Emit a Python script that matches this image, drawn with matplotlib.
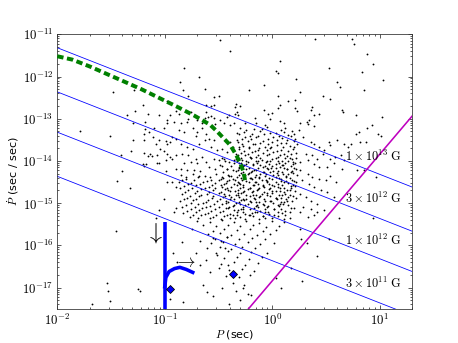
import numpy as np
import matplotlib
matplotlib.use('Agg')
import matplotlib.pyplot as plt
from matplotlib.ticker import FixedLocator, FuncFormatter, NullFormatter

plt.rcParams['mathtext.fontset'] = 'cm'
plt.rcParams['font.family'] = ['DejaVu Sans']
K = 0.5725  # original figure drawn at 57.25 dpi; sizes below given in that scale

# ---------------- data (log10 P [s], log10 Pdot [s/s]) ----------------
top_logP = [-1.48, -1.29, -1.20, -1.16, -1.28, -1.35, -1.05, -0.95, -0.90, -0.98, -0.98, -0.98, -0.91, -1.30, -1.18, -1.79, -1.51]
top_logPdot = [-12.37, -12.33, -12.68, -12.88, -12.82, -12.90, -12.90, -12.92, -12.81, -12.59, -13.02, -13.10, -13.08, -13.10, -13.08, -13.29, -13.42]

topmid_logP = [-0.49, -0.39, -0.82, -0.68, -0.86, -0.63, -0.83, -0.54, -0.50, -0.78,
               -0.22, -0.08, 0.07, 0.03, 0.05, 0.22, 0.05, 0.15, 0.21, 0.21,
               0.23, 0.07, 0.05, -0.08, -0.04, 0.00, -0.02, 0.07, 0.11, -0.16,
               -0.15, -0.07, -0.34, -0.30, -0.35, -0.33, -0.35, -0.32, -0.40, -0.42,
               -0.25, -0.36, -0.45, -0.49, -0.54, -0.62, -0.57, -0.54, -0.62, -0.57,
               -0.63, -0.60, -0.78, -0.87, -0.70, -0.65, -0.79, -0.76, -0.53, -0.39,
               -0.85]
topmid_logPdot = [-11.14, -11.40, -11.81, -12.02, -12.13, -12.30, -12.33, -12.48, -12.45, -12.45,
                  -12.33, -12.19, -11.64, -11.87, -11.92, -12.05, -12.46, -12.57, -12.55, -12.75,
                  -12.81, -12.68, -12.75, -12.79, -12.88, -12.87, -13.00, -13.05, -13.10, -12.98,
                  -13.10, -13.14, -12.65, -12.69, -12.73, -12.84, -12.88, -12.92, -12.92, -12.96,
                  -13.11, -13.10, -13.10, -13.03, -12.98, -12.67, -12.70, -12.67, -12.85, -12.93,
                  -12.98, -12.95, -13.01, -12.88, -13.04, -13.10, -13.08, -12.83, -13.13, -13.14,
                  -13.10]

topright_logP = [0.40, 0.74, 0.76, 0.88, 0.94, 0.53, 0.83, 1.03, 0.60, 0.63, 0.85, 0.26, 0.47, 0.54,
                 0.37, 0.36, 0.65, 0.66, 0.43, 0.39, 0.78, 1.02, 0.34, 0.32, 0.33, 0.26, 0.93, 0.39]
topright_logPdot = [-11.10, -11.11, -11.24, -11.46, -11.70, -11.79, -11.90, -12.08, -12.14, -12.24, -12.33, -12.37, -12.45, -12.53,
                    -12.72, -12.80, -12.80, -12.84, -12.88, -12.92, -12.92, -12.95, -13.02, -13.08, -13.13, -13.10, -13.14, -13.17]

midleft_logP = [-1.18, -1.10, -1.01, -1.19, -1.15, -1.11, -1.30, -1.19, -1.08, -1.05,
                -0.99, -0.98, -0.95, -0.93, -0.90, -1.04, -1.31, -1.19, -1.14, -1.16,
                -1.12, -1.07, -0.98, -0.95, -1.01, -0.93, -0.90, -1.41, -1.07, -1.05,
                -0.99, -1.20, -1.19, -1.17, -1.40, -0.99, -0.90, -1.44, -0.98, -0.93,
                -0.90, -1.32, -1.01, -0.90, -0.91, -1.05, -1.08]
midleft_logPdot = [-13.25, -13.22, -13.22, -13.36, -13.31, -13.43, -13.51, -13.51, -13.59, -13.51,
                   -13.52, -13.59, -13.55, -13.43, -13.47, -13.71, -13.76, -13.81, -13.83, -13.89,
                   -13.89, -13.86, -13.83, -13.90, -13.76, -13.95, -13.86, -13.85, -14.04, -14.04,
                   -13.98, -14.08, -14.13, -14.08, -14.24, -14.24, -14.18, -14.48, -14.50, -14.50,
                   -14.62, -14.64, -14.90, -15.12, -15.21, -15.16, -15.35]

coreup_logP = [-0.87, -0.82, -0.74, -0.70, -0.65, -0.62, -0.71, -0.85, -0.79, -0.74,
               -0.68, -0.63, -0.59, -0.54, -0.57, -0.51, -0.47, -0.42, -0.39, -0.37,
               -0.34, -0.84, -0.78, -0.71, -0.65, -0.62, -0.70, -0.76, -0.82, -0.54,
               -0.50, -0.45, -0.40, -0.36, -0.59, -0.53, -0.47, -0.42, -0.37, -0.85,
               -0.79, -0.73, -0.67, -0.34]
coreup_logPdot = [-13.27, -13.31, -13.23, -13.31, -13.23, -13.35, -13.41, -13.59, -13.67, -13.71,
                  -13.59, -13.51, -13.47, -13.51, -13.67, -13.75, -13.71, -13.79, -13.55, -13.67,
                  -13.83, -13.83, -13.86, -13.95, -13.90, -14.02, -14.06, -14.02, -14.06, -13.95,
                  -13.98, -13.95, -14.02, -14.06, -14.14, -14.18, -14.13, -14.18, -14.22, -14.18,
                  -14.22, -14.21, -14.24, -13.95]

right_logP = [0.25, 0.29, 0.36, 0.39, 0.43, 0.48, 0.53, 0.54, 0.60, 0.67,
              0.70, 0.73, 0.82, 0.87, 0.81, 0.88, 0.78, 0.98, 1.01, 0.31,
              0.37, 0.42, 0.47, 0.54, 0.58, 0.64, 0.67, 0.26, 0.33, 0.39,
              0.43, 0.51, 0.57, 0.65, 0.79, 0.85, 0.96, 0.26, 0.33, 0.37,
              0.43, 0.50, 0.54, 0.59, 0.28, 0.34, 0.39, 0.45, 0.51, 0.57,
              0.26, 0.31, 0.36, 0.42, 0.29, 0.36, 0.42, 0.48, 0.39, 0.26,
              0.33]
right_logPdot = [-13.27, -13.43, -13.55, -13.59, -13.67, -13.75, -13.55, -13.63, -13.51, -13.60,
                 -13.67, -13.59, -13.55, -13.55, -13.31, -13.23, -13.36, -13.36, -13.41, -13.83,
                 -13.86, -13.95, -13.83, -13.95, -13.90, -13.86, -13.98, -14.02, -13.98, -14.08,
                 -14.14, -14.14, -14.06, -14.18, -14.21, -14.22, -14.38, -14.21, -14.30, -14.38,
                 -14.42, -14.46, -14.36, -14.50, -14.46, -14.54, -14.62, -14.70, -14.74, -14.86,
                 -14.78, -14.86, -14.94, -15.02, -15.10, -15.14, -15.21, -15.17, -15.29, -15.21,
                 -15.33]

low_logP = [-1.45, -1.53, -1.51, -1.68, -1.25, -1.23, -0.95, -0.89, -1.54, -0.84,
            -0.92, -0.83, -0.71, -0.64, -0.61, -0.55, -0.47, -0.62, -0.67, -0.58,
            -0.50, -0.41, -0.51, -0.44, -0.61, -0.67, -0.55, -0.48, -0.42, 0.26,
            0.27, 0.32, 0.53, 0.42, 0.28, 0.62, 0.08, 0.94, 0.17, 0.03,
            -0.20, -0.27]
low_logPdot = [-15.67, -17.09, -17.31, -17.38, -17.03, -17.07, -17.27, -16.40, -16.90, -15.93,
               -16.18, -17.35, -16.18, -16.94, -17.10, -17.21, -17.02, -16.34, -16.46, -16.62,
               -16.54, -16.46, -16.22, -16.06, -16.06, -15.90, -15.83, -15.90, -15.79, -15.62,
               -15.86, -15.94, -15.86, -16.24, -16.85, -15.35, -17.02, -15.35, -16.54, -16.78,
               -17.17, -17.02]

coreA_logP = [
    -0.30, -0.17, -0.05, 0.12,
    -0.26, -0.11, 0.03, 0.18,
    -0.31, -0.21, -0.08, 0.06, 0.15,
    -0.28, -0.15, -0.04, 0.09, 0.21,
    -0.32, -0.23, -0.11, 0.00, 0.13, 0.20,
    -0.27, -0.18, -0.07, 0.04, 0.16,
    -0.31, -0.22, -0.13, -0.02, 0.08, 0.19,
    -0.29, -0.19, -0.09, 0.01, 0.11, 0.22,
    -0.33, -0.25, -0.15, -0.05, 0.05, 0.14,
    -0.28, -0.20, -0.10, 0.00, 0.09, 0.18,
    -0.31, -0.23, -0.14, -0.06, 0.03, 0.12, 0.21,
    -0.27, -0.18, -0.09, 0.00, 0.07, 0.17,
    -0.32, -0.24, -0.15, -0.04, 0.05, 0.14, 0.22,
    -0.29, -0.20, -0.11, -0.02, 0.10, 0.19,
    -0.33, -0.25, -0.16, -0.07, 0.03, 0.13,
    -0.28, -0.19, -0.10, 0.00, 0.08, 0.18,
    -0.31, -0.22, -0.13, -0.05, 0.05, 0.15,
    -0.27, -0.17, -0.08, 0.02, 0.11, 0.21,
    -0.32, -0.23, -0.14, -0.03, 0.07, 0.16,
    -0.29, -0.19, -0.10, 0.00, 0.12,
    -0.31, -0.21, -0.12, -0.02, 0.08, 0.19,
    -0.26, -0.16, -0.07, 0.04, 0.14,
    -0.30, -0.20, -0.09, 0.01, 0.10,
    -0.27, -0.15, -0.05, 0.06, 0.17,
    -0.32, -0.21, -0.11, 0.02, 0.12,
    -0.25, -0.14, -0.03, 0.09,
    -0.30, -0.18, -0.07, 0.05, 0.16]
coreA_logPdot = [
    -13.21, -13.24, -13.20, -13.23,
    -13.31, -13.28, -13.33, -13.29,
    -13.37, -13.40, -13.36, -13.41, -13.38,
    -13.47, -13.44, -13.48, -13.45, -13.49,
    -13.56, -13.53, -13.57, -13.54, -13.58, -13.52,
    -13.64, -13.61, -13.66, -13.62, -13.65,
    -13.72, -13.69, -13.74, -13.70, -13.73, -13.71,
    -13.81, -13.78, -13.82, -13.79, -13.83, -13.80,
    -13.89, -13.86, -13.90, -13.87, -13.91, -13.88,
    -13.97, -13.94, -13.98, -13.95, -13.99, -13.96,
    -14.05, -14.02, -14.06, -14.03, -14.07, -14.04, -14.06,
    -14.13, -14.10, -14.14, -14.11, -14.15, -14.12,
    -14.21, -14.18, -14.22, -14.19, -14.23, -14.20, -14.18,
    -14.29, -14.26, -14.30, -14.27, -14.31, -14.28,
    -14.37, -14.34, -14.38, -14.35, -14.39, -14.36,
    -14.45, -14.42, -14.46, -14.43, -14.47, -14.44,
    -14.53, -14.50, -14.54, -14.51, -14.55, -14.52,
    -14.61, -14.58, -14.62, -14.59, -14.63, -14.60,
    -14.69, -14.66, -14.70, -14.67, -14.71, -14.68,
    -14.77, -14.74, -14.78, -14.75, -14.79,
    -14.85, -14.82, -14.86, -14.83, -14.87, -14.84,
    -14.93, -14.90, -14.94, -14.91, -14.95,
    -15.01, -14.98, -15.02, -14.99, -15.03,
    -15.09, -15.06, -15.10, -15.07, -15.11,
    -15.17, -15.14, -15.18, -15.15, -15.19,
    -15.25, -15.22, -15.26, -15.23,
    -15.33, -15.30, -15.34, -15.31, -15.35]

coreA2_logP = [
    -0.24, -0.10, 0.08,
    -0.33, -0.19, -0.02, 0.11, 0.20,
    -0.25, -0.13, 0.01, 0.17,
    -0.33, -0.20, -0.09, 0.04, 0.14,
    -0.28, -0.16, -0.04, 0.08, 0.23,
    -0.31, -0.22, -0.12, -0.01, 0.10, 0.20,
    -0.26, -0.16, -0.05, 0.04, 0.15,
    -0.32, -0.23, -0.13, -0.03, 0.07, 0.17,
    -0.29, -0.20, -0.11, 0.03, 0.12, 0.22,
    -0.33, -0.24, -0.15, -0.05, 0.05, 0.15,
    -0.26, -0.18, -0.11, -0.03, 0.09, 0.19,
    -0.31, -0.22, -0.13, -0.05, 0.03, 0.11, 0.20,
    -0.27, -0.19, -0.09, 0.01, 0.09, 0.18,
    -0.31, -0.23, -0.15, -0.06, 0.05, 0.15, 0.23,
    -0.29, -0.21, -0.12, -0.03, 0.06, 0.16,
    -0.32, -0.24, -0.15, -0.05, 0.03, 0.13, 0.22,
    -0.27, -0.18, -0.09, 0.00, 0.09, 0.19,
    -0.30, -0.21, -0.12, -0.02, 0.07, 0.17,
    -0.27, -0.18, -0.08, 0.03, 0.11, 0.21,
    -0.32, -0.24, -0.15, -0.05, 0.06, 0.16,
    -0.27, -0.17, -0.08, 0.03, 0.13, 0.22,
    -0.31, -0.21, -0.12, -0.02, 0.08, 0.18,
    -0.25, -0.14, -0.04, 0.05, 0.15,
    -0.29, -0.17, -0.07, 0.08, 0.20,
    -0.27, -0.16, -0.07, 0.05, 0.16,
    -0.33, -0.21, -0.09, 0.02, 0.12,
    -0.25, -0.12, 0.00, 0.11]
coreA2_logPdot = [
    -13.27, -13.25, -13.26,
    -13.33, -13.35, -13.34, -13.32, -13.36,
    -13.43, -13.41, -13.44, -13.42,
    -13.51, -13.49, -13.52, -13.50, -13.51,
    -13.60, -13.59, -13.61, -13.58, -13.60,
    -13.68, -13.67, -13.69, -13.66, -13.68, -13.67,
    -13.76, -13.77, -13.75, -13.77, -13.76,
    -13.85, -13.84, -13.85, -13.83, -13.85, -13.84,
    -13.93, -13.92, -13.93, -13.92, -13.93, -13.92,
    -14.01, -14.00, -14.01, -14.00, -14.01, -14.00,
    -14.09, -14.08, -14.09, -14.08, -14.09, -14.08,
    -14.17, -14.16, -14.17, -14.16, -14.17, -14.16, -14.17,
    -14.25, -14.24, -14.25, -14.24, -14.25, -14.24,
    -14.33, -14.32, -14.33, -14.32, -14.33, -14.32, -14.33,
    -14.41, -14.40, -14.41, -14.40, -14.41, -14.40,
    -14.49, -14.48, -14.49, -14.48, -14.49, -14.48, -14.49,
    -14.57, -14.56, -14.57, -14.56, -14.57, -14.56,
    -14.65, -14.64, -14.65, -14.64, -14.65, -14.64,
    -14.73, -14.72, -14.73, -14.72, -14.73, -14.72,
    -14.81, -14.80, -14.81, -14.80, -14.81, -14.80,
    -14.89, -14.88, -14.89, -14.88, -14.89, -14.88,
    -14.97, -14.96, -14.97, -14.96, -14.97, -14.96,
    -15.05, -15.04, -15.06, -15.05, -15.04,
    -15.13, -15.12, -15.14, -15.13, -15.12,
    -15.21, -15.22, -15.20, -15.21, -15.22,
    -15.29, -15.28, -15.30, -15.29, -15.28,
    -15.37, -15.38, -15.36, -15.37]

coreD_logP = [
    -0.47, -0.36, -0.21, -0.02, 0.16,
    -0.44, -0.29, -0.13, 0.06, 0.19,
    -0.49, -0.38, -0.24, -0.07, 0.10,
    -0.42, -0.31, -0.17, -0.01, 0.14,
    -0.46, -0.34, -0.22, -0.08, 0.04, 0.17,
    -0.40, -0.27, -0.12, 0.01, 0.13,
    -0.48, -0.35, -0.20, -0.06, 0.08, 0.20,
    -0.43, -0.30, -0.16, -0.03, 0.11,
    -0.47, -0.33, -0.21, -0.09, 0.05, 0.17,
    -0.41, -0.26, -0.13, 0.00, 0.14,
    -0.45, -0.32, -0.18, -0.05, 0.09,
    -0.38, -0.24, -0.11, 0.03, 0.15,
    -0.43, -0.29, -0.15, -0.01, 0.11,
    -0.36, -0.23, -0.08, 0.07,
    -0.41, -0.27, -0.13, 0.02,
    -0.33, -0.19, -0.04,
    -0.37, -0.22, -0.09]
coreD_logPdot = [
    -13.93, -13.97, -13.91, -13.99, -13.94,
    -14.01, -14.04, -14.00, -14.05, -14.02,
    -14.09, -14.13, -14.07, -14.12, -14.10,
    -14.19, -14.15, -14.21, -14.16, -14.20,
    -14.27, -14.24, -14.29, -14.25, -14.28, -14.26,
    -14.35, -14.33, -14.37, -14.34, -14.38,
    -14.43, -14.46, -14.41, -14.45, -14.42, -14.47,
    -14.52, -14.55, -14.50, -14.54, -14.51,
    -14.61, -14.58, -14.63, -14.59, -14.62, -14.60,
    -14.69, -14.72, -14.67, -14.71, -14.68,
    -14.78, -14.76, -14.80, -14.77, -14.81,
    -14.86, -14.89, -14.84, -14.88, -14.85,
    -14.95, -14.93, -14.97, -14.94, -14.98,
    -15.04, -15.01, -15.05, -15.02,
    -15.12, -15.15, -15.10, -15.14,
    -15.21, -15.24, -15.20,
    -15.29, -15.27, -15.31]

coreB_logP = [
    -0.85, -0.74, -0.63, -0.52, -0.41,
    -0.80, -0.69, -0.57, -0.46, -0.37,
    -0.87, -0.76, -0.64, -0.53, -0.42,
    -0.82, -0.71, -0.59, -0.48, -0.38,
    -0.78, -0.66, -0.55, -0.44, -0.35,
    -0.84, -0.72, -0.61, -0.50, -0.40,
    -0.79, -0.68, -0.56, -0.46, -0.36,
    -0.86, -0.74, -0.62, -0.51, -0.41,
    -0.80, -0.69, -0.58, -0.47, -0.37,
    -0.76, -0.65, -0.53, -0.43,
    -0.83, -0.71, -0.60, -0.49, -0.39,
    -0.77, -0.66, -0.55, -0.45, -0.35]
coreB_logPdot = [
    -14.33, -14.31, -14.35, -14.30, -14.34,
    -14.42, -14.39, -14.44, -14.40, -14.43,
    -14.50, -14.53, -14.49, -14.52, -14.48,
    -14.60, -14.57, -14.61, -14.58, -14.62,
    -14.69, -14.66, -14.70, -14.67, -14.71,
    -14.78, -14.75, -14.79, -14.76, -14.80,
    -14.87, -14.84, -14.88, -14.85, -14.89,
    -14.96, -14.93, -14.97, -14.94, -14.98,
    -15.05, -15.02, -15.06, -15.03, -15.07,
    -15.14, -15.11, -15.15, -15.12,
    -15.23, -15.20, -15.24, -15.21, -15.25,
    -15.32, -15.29, -15.33, -15.30, -15.34]

coreB2_logP = [
    -0.80, -0.68, -0.58, -0.47, -0.38,
    -0.84, -0.73, -0.61, -0.50, -0.40,
    -0.78, -0.67, -0.56, -0.45, -0.36,
    -0.86, -0.75, -0.63, -0.53, -0.42,
    -0.81, -0.70, -0.59, -0.48, -0.39,
    -0.77, -0.66, -0.55, -0.44, -0.34,
    -0.82, -0.71, -0.60, -0.49, -0.39,
    -0.76, -0.64, -0.54, -0.43, -0.34,
    -0.84, -0.72, -0.62, -0.50, -0.40,
    -0.79, -0.68, -0.57, -0.46, -0.36,
    -0.74, -0.63, -0.52, -0.42,
    -0.69, -0.58, -0.48, -0.39]
coreB2_logPdot = [
    -14.37, -14.36, -14.38, -14.37, -14.36,
    -14.46, -14.45, -14.47, -14.46, -14.45,
    -14.55, -14.54, -14.56, -14.55, -14.54,
    -14.64, -14.63, -14.65, -14.64, -14.63,
    -14.73, -14.72, -14.74, -14.73, -14.72,
    -14.82, -14.81, -14.83, -14.82, -14.81,
    -14.91, -14.90, -14.92, -14.91, -14.90,
    -15.00, -14.99, -15.01, -15.00, -14.99,
    -15.09, -15.08, -15.10, -15.09, -15.08,
    -15.18, -15.17, -15.19, -15.18, -15.17,
    -15.27, -15.26, -15.28, -15.27,
    -15.36, -15.35, -15.37, -15.36]

coreC_logP = [
    -0.70, -0.58, -0.47, -0.36, -0.24, -0.12, 0.00, 0.11,
    -0.64, -0.52, -0.41, -0.30, -0.18, -0.06, 0.06,
    -0.75, -0.55, -0.45, -0.33, -0.21, -0.09, 0.03,
    -0.60, -0.49, -0.38, -0.26, -0.14, -0.02,
    -0.53, -0.42, -0.31, -0.19, -0.07,
    -0.57, -0.46, -0.35, -0.23, -0.11, 0.02,
    -0.49, -0.38, -0.28, -0.16,
    -0.52, -0.41, -0.30, -0.20, -0.05,
    -0.45, -0.33, -0.22, -0.10,
    -0.48, -0.36, -0.25, -0.13,
    -0.40, -0.28, -0.17,
    -0.43, -0.31, -0.21,
    -0.37, -0.26,
    -0.34, -0.23,
    -0.30, -0.40]
coreC_logPdot = [
    -15.42, -15.45, -15.41, -15.44, -15.43, -15.46, -15.42, -15.45,
    -15.52, -15.55, -15.51, -15.54, -15.52, -15.56, -15.53,
    -15.62, -15.65, -15.61, -15.64, -15.62, -15.66, -15.63,
    -15.74, -15.71, -15.75, -15.72, -15.76, -15.73,
    -15.84, -15.81, -15.85, -15.82, -15.86,
    -15.95, -15.92, -15.96, -15.93, -15.97, -15.94,
    -16.05, -16.08, -16.04, -16.07,
    -16.17, -16.14, -16.18, -16.15, -16.19,
    -16.30, -16.27, -16.33, -16.28,
    -16.44, -16.40, -16.47, -16.42,
    -16.58, -16.55, -16.61,
    -16.72, -16.76, -16.70,
    -16.88, -16.95,
    -17.08, -17.15,
    -17.30, -17.40]

# field lines
B_fields = [1e13, 3e12, 1e12, 3e11]
B_labels = [r'$1\times10^{13}\ \mathrm{G}$', r'$3\times10^{12}\ \mathrm{G}$',
            r'$1\times10^{12}\ \mathrm{G}$', r'$3\times10^{11}\ \mathrm{G}$']
B_const = 4.56e19
label_Pdot = [1e-14, 1e-15, 1e-16, 1e-17]

# death line  Pdot = A * P^3
death_A = 1.45e-17
death_index = 3.0

# green dashed track
green_logP = [-2.00, -1.86, -1.69, -1.53, -1.36, -1.21, -1.05, -0.89, -0.73, -0.58,
              -0.51, -0.45, -0.39, -0.34, -0.30, -0.27, -0.25]
green_logPdot = [-11.52, -11.60, -11.77, -11.95, -12.14, -12.31, -12.51, -12.71, -12.92, -13.14,
                 -13.31, -13.47, -13.63, -13.84, -14.04, -14.24, -14.50]

# blue track
blue_vert_logP = [-1.0, -1.0]
blue_vert_logPdot = [-15.45, -17.6]
blue_hook_logP = [-1.00, -0.99, -0.96, -0.91, -0.86, -0.80, -0.74]
blue_hook_logPdot = [-16.98, -16.76, -16.62, -16.55, -16.52, -16.57, -16.64]

diamond_logP = [-0.95, -0.37]
diamond_logPdot = [-17.04, -16.67]

# axis ticks
x_major_exp = [-2, -1, 0, 1]
y_major_exp = [-17, -16, -15, -14, -13, -12, -11]

# ---------------- plotting ----------------
fig = plt.figure(figsize=(4.58, 3.43), dpi=100)
ax = fig.add_axes([0.125, 0.1, 0.775, 0.8])

groups = [(top_logP, top_logPdot), (topmid_logP, topmid_logPdot), (topright_logP, topright_logPdot),
          (midleft_logP, midleft_logPdot), (coreup_logP, coreup_logPdot), (right_logP, right_logPdot),
          (low_logP, low_logPdot), (coreA_logP, coreA_logPdot), (coreA2_logP, coreA2_logPdot),
          (coreD_logP, coreD_logPdot), (coreB_logP, coreB_logPdot), (coreB2_logP, coreB2_logPdot),
          (coreC_logP, coreC_logPdot)]
for lp, lpd in groups:
    n = min(len(lp), len(lpd))
    ax.plot(10 ** np.array(lp[:n]), 10 ** np.array(lpd[:n]), 'o', ms=2.3 * K, mfc='k', mec='none', zorder=1)

Pgrid = np.logspace(-2, np.log10(20), 200)
for B in B_fields:
    ax.plot(Pgrid, (B / B_const) ** 2 / Pgrid, color='b', lw=1.0 * K, zorder=2)
for lab, yv in zip(B_labels, label_Pdot):
    ax.text(16, yv, lab, ha='right', va='baseline', fontsize=15.5 * K, zorder=4)

ax.plot(Pgrid, death_A * Pgrid ** death_index, color='m', lw=2.0 * K, zorder=2)

ax.plot(10 ** np.array(green_logP), 10 ** np.array(green_logPdot), color='g', lw=5 * K,
        dashes=(1.6, 0.9), zorder=3)

ax.plot(10 ** np.array(blue_vert_logP), 10 ** np.array(blue_vert_logPdot), color='b', lw=4.5 * K,
        solid_capstyle='butt', zorder=3)
ax.plot(10 ** np.array(blue_hook_logP), 10 ** np.array(blue_hook_logPdot), color='b', lw=4.5 * K, zorder=3)
ax.plot(10 ** np.array(diamond_logP), 10 ** np.array(diamond_logPdot), 'D', ms=7.5 * K, mfc='b',
        mec='k', mew=1.0 * K, ls='none', zorder=4)

ax.text(10 ** -1.10, 10 ** -15.71, r'$\downarrow$', ha='center', va='center', fontsize=30 * K, zorder=4)
ax.text(10 ** -0.81, 10 ** -16.40, r'$\rightarrow$', ha='center', va='center', fontsize=22 * K, zorder=4)

ax.set_xscale('log')
ax.set_yscale('log')
ax.set_xlim(0.01, 20)
ax.set_ylim(10 ** -17.5, 1e-11)

x_major = [10.0 ** e for e in x_major_exp]
y_major = [10.0 ** e for e in y_major_exp]
x_minor = [m * 10.0 ** e for e in x_major_exp for m in range(2, 10) if m * 10.0 ** e <= 20]
y_minor = [m * 10.0 ** e for e in [-18] + y_major_exp[:-1] for m in range(2, 10)
           if m * 10.0 ** e >= 10 ** -17.5]
ax.xaxis.set_major_locator(FixedLocator(x_major))
ax.yaxis.set_major_locator(FixedLocator(y_major))
ax.xaxis.set_minor_locator(FixedLocator(x_minor))
ax.yaxis.set_minor_locator(FixedLocator(y_minor))
fmt = FuncFormatter(lambda v, pos: r'$10^{%d}$' % int(round(np.log10(v))))
ax.xaxis.set_major_formatter(fmt)
ax.yaxis.set_major_formatter(fmt)
ax.xaxis.set_minor_formatter(NullFormatter())
ax.yaxis.set_minor_formatter(NullFormatter())
ax.tick_params(which='both', direction='in', top=True, right=True, labelsize=16 * K, pad=5 * K,
               width=0.8 * K)
ax.tick_params(which='major', length=5 * K)
ax.tick_params(which='minor', length=2.5 * K)
for sp in ax.spines.values():
    sp.set_color('#333333')
    sp.set_linewidth(1.0 * K)

ax.set_xlabel(r'$P$ (sec)', fontsize=14 * K, labelpad=0)
ax.set_ylabel(r'$\dot P$ (sec / sec)', fontsize=14 * K, labelpad=2 * K)

fig.savefig('out.png', dpi=100)
